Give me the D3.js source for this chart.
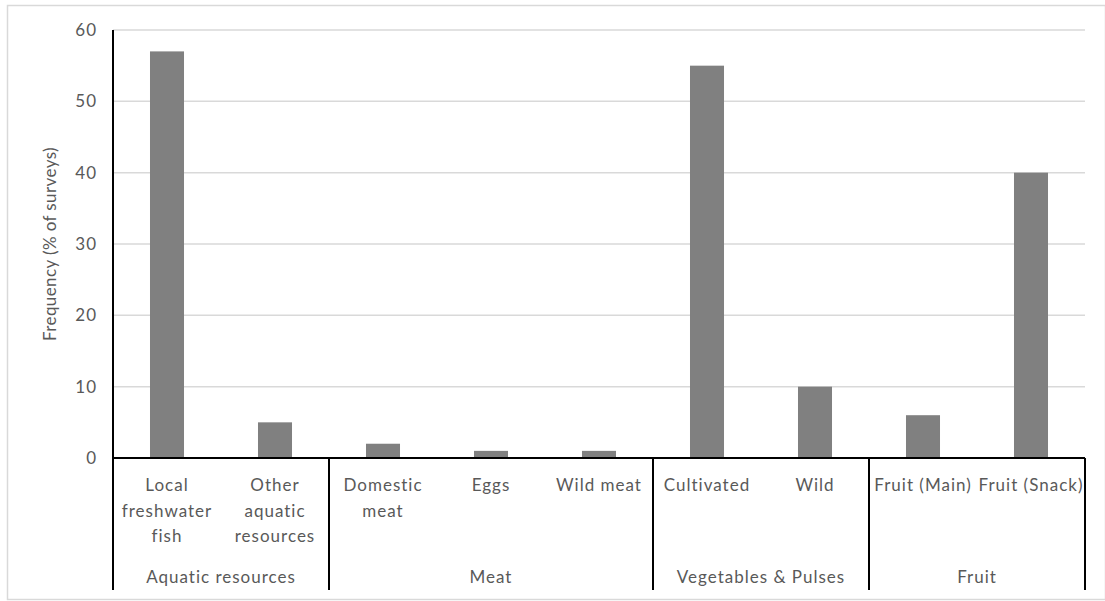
<!DOCTYPE html>
<html>
<head>
<meta charset="utf-8">
<script src="https://cdn.jsdelivr.net/npm/d3@7"></script>
<style>
  body { margin: 0; background: #fff; }
  text { font-family: Lato, "Liberation Sans", sans-serif; fill: #595959; letter-spacing: 1px; }
</style>
</head>
<body>
<div id="chart"></div>
<script>
// category labels (one entry per line) and their values
const categories = [
    ["Local", "freshwater", "fish"],
    ["Other", "aquatic", "resources"],
    ["Domestic", "meat"],
    ["Eggs"],
    ["Wild meat"],
    ["Cultivated"],
    ["Wild"],
    ["Fruit (Main)"],
    ["Fruit (Snack)"]
];
const values = [57, 5, 2, 1, 1, 55, 10, 6, 40];
const groups = ["Aquatic resources", "Meat", "Vegetables & Pulses", "Fruit"];
const groupSizes = [2, 3, 2, 2];
const yTicks = [0, 10, 20, 30, 40, 50, 60];
const yTitle = "Frequency (% of surveys)";

const W = 1105, H = 601;
const plot = {left: 113, right: 1085, top: 30, bottom: 458};
const labelBottom = 590;

const svg = d3.select("#chart").append("svg")
    .attr("width", W)
    .attr("height", H);

// outer chart border
svg.append("rect")
    .attr("x", 7.5).attr("y", 5.5)
    .attr("width", W - 7).attr("height", 594)
    .attr("fill", "none")
    .attr("stroke", "#d9d9d9")
    .attr("stroke-width", 1.5);

const x = d3.scaleBand()
    .domain(d3.range(categories.length))
    .range([plot.left, plot.right])
    .paddingInner(0.685)
    .paddingOuter(0.3425);

const y = d3.scaleLinear()
    .domain([0, 60])
    .range([plot.bottom, plot.top]);

// gridlines
svg.append("g")
    .selectAll("line")
    .data(yTicks.slice(1))
    .enter().append("line")
    .attr("x1", plot.left).attr("x2", plot.right)
    .attr("y1", d => y(d)).attr("y2", d => y(d))
    .attr("stroke", "#d9d9d9")
    .attr("stroke-width", 1.5);

// tick labels
svg.append("g")
    .selectAll("text")
    .data(yTicks)
    .enter().append("text")
    .attr("x", 97)
    .attr("y", d => y(d))
    .attr("dy", "0.35em")
    .attr("text-anchor", "end")
    .attr("font-size", "17px")
    .text(d => d);

// bars
svg.append("g")
    .selectAll("rect")
    .data(values)
    .enter().append("rect")
    .attr("x", (d, i) => x(i))
    .attr("width", x.bandwidth())
    .attr("y", d => y(d))
    .attr("height", d => y(0) - y(d))
    .attr("fill", "#808080");

// axes lines
svg.append("line")
    .attr("x1", plot.left).attr("x2", plot.left)
    .attr("y1", plot.top).attr("y2", labelBottom)
    .attr("stroke", "#000").attr("stroke-width", 2);
svg.append("line")
    .attr("x1", plot.left).attr("x2", plot.right)
    .attr("y1", plot.bottom).attr("y2", plot.bottom)
    .attr("stroke", "#000").attr("stroke-width", 2);

// group dividers
const step = x.step();
let start = 0;
const groupSpans = groupSizes.map(n => {
    const s = {x0: plot.left + start * step, x1: plot.left + (start + n) * step};
    start += n;
    return s;
});
svg.append("g")
    .selectAll("line")
    .data(groupSpans)
    .enter().append("line")
    .attr("x1", d => d.x1).attr("x2", d => d.x1)
    .attr("y1", plot.bottom).attr("y2", labelBottom)
    .attr("stroke", "#000").attr("stroke-width", 2);

// category labels
const catLabel = svg.append("g")
    .selectAll("text")
    .data(categories)
    .enter().append("text")
    .attr("text-anchor", "middle")
    .attr("font-size", "17px");
catLabel.selectAll("tspan")
    .data((d, i) => d.map(t => ({t, i})))
    .enter().append("tspan")
    .attr("x", d => x(d.i) + x.bandwidth() / 2)
    .attr("y", (d, j) => 491 + j * 25.5)
    .text(d => d.t);

// group labels
svg.append("g")
    .selectAll("text")
    .data(groups)
    .enter().append("text")
    .attr("x", (d, i) => (groupSpans[i].x0 + groupSpans[i].x1) / 2)
    .attr("y", 583)
    .attr("text-anchor", "middle")
    .attr("font-size", "17px")
    .text(d => d);

// y title
svg.append("text")
    .attr("transform", `translate(50,${(plot.top + plot.bottom) / 2}) rotate(-90)`)
    .attr("dy", "0.35em")
    .attr("text-anchor", "middle")
    .attr("font-size", "17px")
    .style("letter-spacing", "0.4px")
    .text(yTitle);
</script>
</body>
</html>
